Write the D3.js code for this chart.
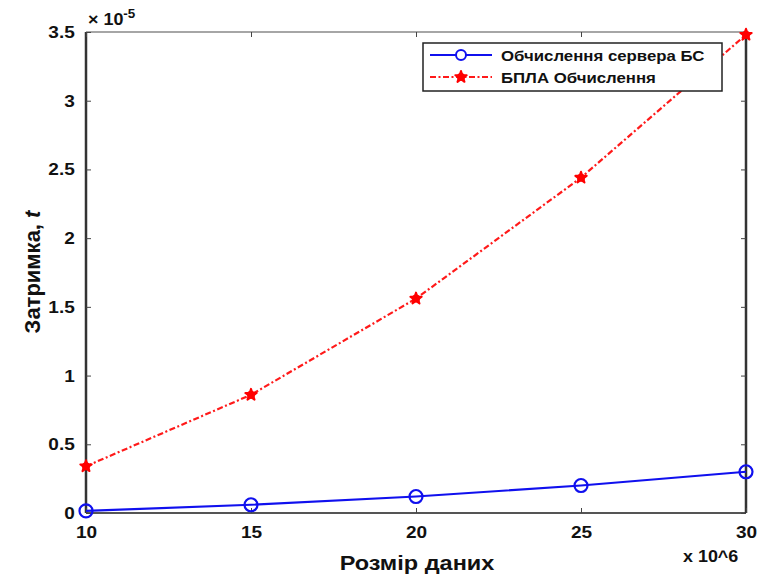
<!DOCTYPE html>
<html>
<head>
<meta charset="utf-8">
<script src="https://cdn.jsdelivr.net/npm/d3@7"></script>
<style>
  html, body { margin: 0; padding: 0; background: #fff; }
  svg text { font-family: "Liberation Sans", Arial, sans-serif; font-weight: bold; fill: #111; }
</style>
</head>
<body>
<svg id="chart" width="760" height="580"></svg>
<script>
// Data size (x 10^6) and delay (x 10^-5)
const dataSizes = [10, 15, 20, 25, 30];
const serverDelay = [0.015, 0.06, 0.12, 0.2, 0.3];
const uavDelay = [0.34, 0.86, 1.56, 2.44, 3.48];
const xTicks = [10, 15, 20, 25, 30];
const yTicks = [0, 0.5, 1, 1.5, 2, 2.5, 3, 3.5];
const seriesNames = ["Обчислення сервера БС", "БПЛА Обчислення"];

(function () {
const svg = d3.select("#chart");
const pl = 86, pr = 746, pt = 32, pb = 513;
const wide = 1.12; // horizontal stretch of the bold labels

const x = d3.scaleLinear().domain([10, 30]).range([pl, pr]);
const y = d3.scaleLinear().domain([0, 3.5]).range([pb, pt]);

// Frame: top border lighter, other sides dark
svg.append("line").attr("x1", pl).attr("x2", pr).attr("y1", pt).attr("y2", pt)
  .attr("stroke", "#888").attr("stroke-width", 1.5);
svg.append("line").attr("x1", pl).attr("x2", pr).attr("y1", pb).attr("y2", pb)
  .attr("stroke", "#555").attr("stroke-width", 2);
svg.append("line").attr("x1", pl).attr("x2", pl).attr("y1", pt).attr("y2", pb)
  .attr("stroke", "#333").attr("stroke-width", 2.5);
svg.append("line").attr("x1", pr).attr("x2", pr).attr("y1", pt).attr("y2", pb)
  .attr("stroke", "#333").attr("stroke-width", 2.5);

// Axes with inward ticks
const xAxis = d3.axisBottom(x).tickValues(xTicks).tickSize(-5).tickPadding(13).tickFormat(d3.format("d"));
const gx = svg.append("g").attr("transform", `translate(0,${pb})`).call(xAxis);
gx.select(".domain").remove();
gx.selectAll(".tick line").attr("stroke", "#444");
gx.selectAll("text").attr("font-size", 17).attr("fill", "#111")
  .attr("transform", `scale(${wide},1)`);

const yAxis = d3.axisLeft(y).tickValues(yTicks).tickSize(-5).tickPadding(10).tickFormat(d => String(d));
const gy = svg.append("g").attr("transform", `translate(${pl},0)`).call(yAxis);
gy.select(".domain").remove();
gy.selectAll(".tick line").attr("stroke", "#444");
gy.selectAll("text").attr("font-size", 17).attr("fill", "#111")
  .attr("transform", `scale(${wide},1)`);

// Mirrored ticks on top and right
const gxt = svg.append("g").attr("transform", `translate(0,${pt})`)
  .call(d3.axisTop(x).tickValues(xTicks).tickSize(-5).tickFormat(""));
gxt.select(".domain").remove();
gxt.selectAll(".tick line").attr("stroke", "#444");
const gyr = svg.append("g").attr("transform", `translate(${pr},0)`)
  .call(d3.axisRight(y).tickValues(yTicks).tickSize(-5).tickFormat(""));
gyr.select(".domain").remove();
gyr.selectAll(".tick line").attr("stroke", "#444");

// Exponent labels
const ex = svg.append("text").attr("transform", `translate(88,25) scale(${wide},1)`).attr("font-size", 16);
ex.append("tspan").text("× 10");
ex.append("tspan").attr("dy", -7).attr("font-size", 12).text("-5");
svg.append("text").attr("transform", `translate(683,562) scale(${wide},1)`)
  .attr("font-size", 16).attr("font-weight", "normal").text("x 10^6");

// Axis titles
svg.append("text").attr("transform", `translate(417,570) scale(${wide},1)`)
  .attr("text-anchor", "middle").attr("font-size", 21).text("Розмір даних");
const yl = svg.append("text").attr("transform", "translate(40,272) rotate(-90)")
  .attr("text-anchor", "middle").attr("font-size", 22);
yl.append("tspan").text("Затримка, ");
yl.append("tspan").attr("font-style", "italic").text("t");

const line = d3.line().x((d, i) => x(dataSizes[i])).y(d => y(d));

// UAV computation: red dash-dot with star markers
svg.append("path").datum(uavDelay).attr("d", line)
  .attr("fill", "none").attr("stroke", "#ff1a1a").attr("stroke-width", 2.2)
  .attr("stroke-dasharray", "6,2.5,2,2.5");
const star = d3.symbol().type(d3.symbolStar).size(40);
function drawMarker(g) {
  g.append("circle").attr("r", 4).attr("fill", "#ff0000");
  g.append("path").attr("d", star).attr("fill", "#ff0000")
    .attr("stroke", "#ff0000").attr("stroke-width", 2).attr("stroke-linejoin", "round");
}
svg.selectAll(".uav").data(uavDelay).join("g").attr("class", "uav")
  .attr("transform", (d, i) => `translate(${x(dataSizes[i])},${y(d)})`)
  .call(drawMarker);

// Base station server computation: blue solid with circles
svg.append("path").datum(serverDelay).attr("d", line)
  .attr("fill", "none").attr("stroke", "#1010ee").attr("stroke-width", 2.2);
svg.selectAll(".srv").data(serverDelay).join("circle").attr("class", "srv")
  .attr("cx", (d, i) => x(dataSizes[i])).attr("cy", d => y(d)).attr("r", 6.5)
  .attr("fill", "none").attr("stroke", "#1010ee").attr("stroke-width", 2.2);

// Legend
const lg = svg.append("g");
lg.append("rect").attr("x", 423).attr("y", 43).attr("width", 299).attr("height", 48)
  .attr("fill", "#fff").attr("stroke", "#222").attr("stroke-width", 1.5);
lg.append("line").attr("x1", 430).attr("x2", 492).attr("y1", 55).attr("y2", 55)
  .attr("stroke", "#1010ee").attr("stroke-width", 2);
lg.append("circle").attr("cx", 461).attr("cy", 55).attr("r", 5)
  .attr("fill", "#fff").attr("stroke", "#1010ee").attr("stroke-width", 2);
lg.append("line").attr("x1", 430).attr("x2", 492).attr("y1", 77).attr("y2", 77)
  .attr("stroke", "#ff1a1a").attr("stroke-width", 2).attr("stroke-dasharray", "6,2.5,2,2.5");
lg.append("g").attr("transform", "translate(461,77)").call(drawMarker);
lg.append("text").attr("transform", `translate(501,61) scale(${wide},1)`).attr("font-size", 15).text(seriesNames[0]);
lg.append("text").attr("transform", `translate(501,83) scale(${wide},1)`).attr("font-size", 15).text(seriesNames[1]);
})();
</script>
</body>
</html>
